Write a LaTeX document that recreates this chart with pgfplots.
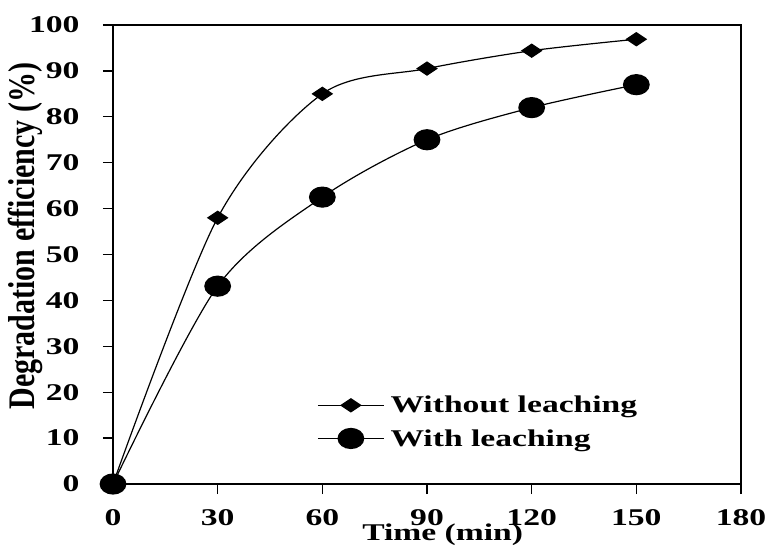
\documentclass[border=0pt]{standalone}
\usepackage{fontspec}
\setmainfont{Liberation Serif}[FakeStretch=1.4]
\newfontfamily\ylfont{Liberation Serif}
\usepackage{pgfplots}
\pgfplotsset{compat=1.18}
\usetikzlibrary{calc}
\begin{document}
\begin{tikzpicture}
\begin{axis}[name=ax,
  scale only axis, width=628pt, height=459pt,
  xmin=0, xmax=180, ymin=0, ymax=100,
  xtick={0,30,...,180}, ytick={0,10,...,100},
  axis line style={line width=1.5pt},
  tick align=outside, tick pos=left,
  major tick length=10pt,
  tick style={line width=1.4pt, black},
  ticklabel style={font=\fontsize{24}{28}\selectfont\bfseries},
  yticklabel style={xshift=-20pt},
  xticklabel style={yshift=-12pt},
  /pgf/number format/assume math mode=true,
  clip=false,
  xlabel={Time (min)},
  xlabel style={font=\fontsize{24}{28}\selectfont\bfseries, at={(axis description cs:0.525,-0.11)}, anchor=center},
  ylabel={\scalebox{1}[1.25]{\ylfont\fontsize{30}{34}\selectfont\bfseries Degradation efficiency (\%)}},
  ylabel style={at={(axis description cs:-0.14,0.54)}, anchor=center, rotate=0},
  legend style={draw=none, fill=none, at={(axis description cs:0.325,0.196)}, anchor=north west,
    inner sep=0pt, font=\fontsize{24}{28}\selectfont\bfseries, row sep=11pt,
    nodes={inner xsep=6pt}},
  legend cell align=left,
  legend image code/.code={\draw[mark repeat=2,mark phase=2,#1] plot coordinates {(0pt,0pt)(33pt,0pt)(66pt,0pt)};},
]
\addplot[black, line width=1.2pt, smooth, mark=diamond*, mark size=6.5pt, mark options={xscale=2}]
  coordinates {(0,0)(30,58)(60,85)(90,90.5)(120,94.4)(150,96.9)};
\addlegendentry{Without leaching}
\addplot[black, line width=1.2pt, smooth, mark=*, mark size=10pt, mark options={xscale=1.28}]
  coordinates {(0,0)(30,43.1)(60,62.5)(90,75)(120,82)(150,87)};
\addlegendentry{With leaching}
\end{axis}
\pgfresetboundingbox
\path ($(ax.south west)+(-113pt,-62pt)$) rectangle ($(ax.north east)+(26pt,25pt)$);
\end{tikzpicture}
\end{document}
